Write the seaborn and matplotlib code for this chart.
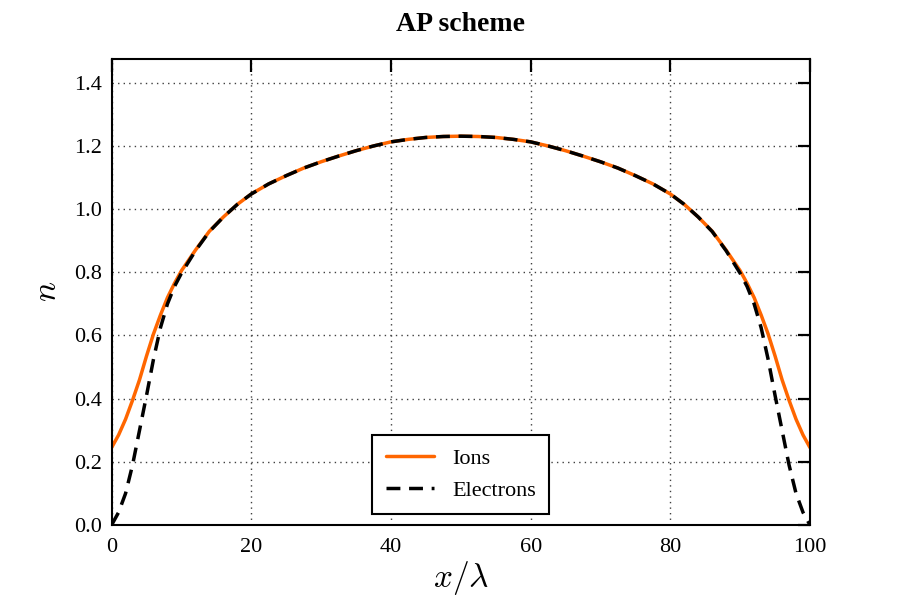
import numpy as np
import pandas as pd
import matplotlib
matplotlib.use("Agg")
import matplotlib.pyplot as plt
import seaborn as sns

# Density profiles (x in units of lambda)
x_pos = [0, 1, 2, 3, 4, 5, 6, 7, 8, 9, 10, 12, 14, 16, 18, 20, 22.5, 25, 27.5,
         30, 32.5, 35, 37.5, 40, 42.5, 45, 47.5, 50,
         52.5, 55, 57.5, 60, 62.5, 65, 67.5, 70, 72.5, 75, 77.5, 80, 82, 84,
         86, 88, 90, 91, 92, 93, 94, 95, 96, 97, 98, 99, 100]
n_ions = [0.245, 0.285, 0.335, 0.395, 0.46, 0.535, 0.605, 0.665, 0.72, 0.765,
          0.805, 0.87, 0.93, 0.975, 1.015, 1.048, 1.08, 1.106, 1.13,
          1.15, 1.168, 1.185, 1.2, 1.213, 1.221, 1.227, 1.23, 1.231,
          1.23, 1.227, 1.221, 1.213, 1.2, 1.185, 1.168, 1.15, 1.13, 1.106,
          1.08, 1.048, 1.015, 0.975, 0.93, 0.87, 0.805, 0.765, 0.72, 0.665,
          0.605, 0.535, 0.46, 0.395, 0.335, 0.285, 0.245]
n_electrons = [0.0, 0.04, 0.10, 0.19, 0.30, 0.41, 0.525, 0.625, 0.70, 0.755,
               0.797, 0.868, 0.929, 0.975, 1.015, 1.048, 1.08, 1.106, 1.13,
               1.15, 1.168, 1.185, 1.2, 1.213, 1.221, 1.227, 1.23, 1.231,
               1.23, 1.227, 1.221, 1.213, 1.2, 1.185, 1.168, 1.15, 1.13, 1.106,
               1.08, 1.048, 1.015, 0.975, 0.929, 0.868, 0.797, 0.755, 0.70,
               0.625, 0.525, 0.41, 0.30, 0.19, 0.10, 0.04, 0.0]
y_ticks = [0.0, 0.2, 0.4, 0.6, 0.8, 1.0, 1.2, 1.4]

df = pd.DataFrame({"x": x_pos, "Ions": n_ions, "Electrons": n_electrons})

sns.set_style("white")
plt.rcParams["font.family"] = ["Liberation Serif", "DejaVu Serif"]
plt.rcParams["mathtext.fontset"] = "cm"
plt.rcParams["text.color"] = "black"
plt.rcParams["axes.labelcolor"] = "black"
plt.rcParams["xtick.color"] = "black"
plt.rcParams["ytick.color"] = "black"

fig, ax = plt.subplots(figsize=(9, 6), dpi=100)
fig.subplots_adjust(left=0.124, right=0.9, bottom=0.125, top=0.902)

sns.lineplot(data=df, x="x", y="Ions", ax=ax, color="#ff6600", lw=2.5,
             label="Ions")
sns.lineplot(data=df, x="x", y="Electrons", ax=ax, color="black", lw=2.5,
             linestyle=(0, (4, 2.5)), label="Electrons")

ax.set_xlim(0, 100)
ax.set_ylim(0, 1.476)
ax.set_xticks([0, 20, 40, 60, 80, 100])
ax.set_yticks(y_ticks)
ax.set_yticklabels([f"{v:.1f}" for v in y_ticks])

ax.grid(True, color="0.25", linestyle=(0, (1, 3)), linewidth=1.0)
ax.tick_params(direction="in", length=9, width=1.6, top=True, right=True,
               labelsize=16)
ax.tick_params(axis="x", pad=9)
ax.tick_params(axis="y", pad=7)
for sp in ax.spines.values():
    sp.set_color("black")
    sp.set_linewidth(1.5)

ax.set_xlabel(r"$x/\lambda$", fontsize=24, labelpad=2)
ax.set_ylabel(r"$n$", fontsize=24, labelpad=8)
ax.set_title("AP scheme", fontsize=20, fontweight="bold", pad=20)

leg = ax.legend(loc="lower center", fontsize=16, fancybox=False,
                framealpha=1, edgecolor="black", handlelength=2.2,
                borderpad=0.6, borderaxespad=0.5)
leg.get_frame().set_linewidth(1.5)

fig.savefig("out.png", dpi=100)
